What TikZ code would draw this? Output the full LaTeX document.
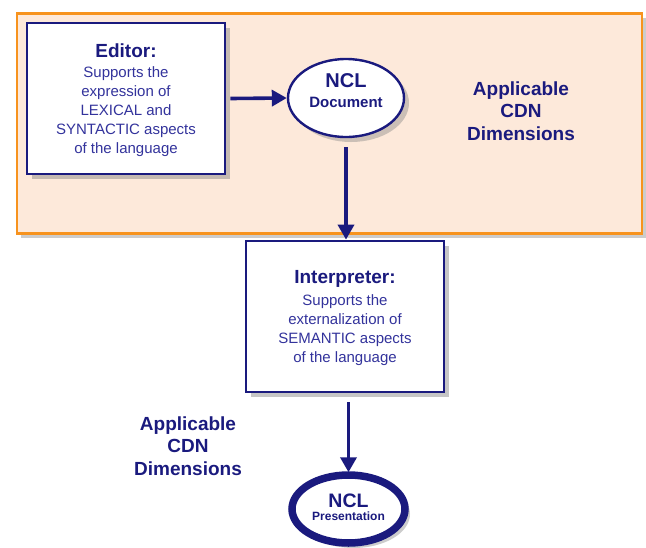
\documentclass[tikz,border=0pt]{standalone}
\usepackage{fontspec}
\setmainfont{Liberation Sans}
\usetikzlibrary{arrows.meta,shadows,shapes.geometric}
\definecolor{navy}{HTML}{1A1A7E}
\definecolor{bodyc}{HTML}{33339C}
\definecolor{orangeb}{HTML}{F7931E}
\definecolor{peach}{HTML}{FDE9DA}
\tikzset{
  panel/.style={draw=orangeb,line width=2.8pt,fill=peach,
    drop shadow={shadow xshift=4pt,shadow yshift=-4pt,opacity=0.4,fill=gray}},
  procbox/.style={draw=navy,line width=2.8pt,fill=white,
    drop shadow={shadow xshift=5pt,shadow yshift=-5pt,opacity=0.45,fill=gray}},
  docell/.style={ellipse,draw=navy,line width=2.4pt,fill=white,inner sep=0pt,
    drop shadow={shadow xshift=5pt,shadow yshift=-5pt,opacity=0.4,fill=gray}},
  presell/.style={ellipse,draw=navy,line width=7.5pt,fill=white,inner sep=0pt,
    drop shadow={shadow xshift=5pt,shadow yshift=-5pt,opacity=0.4,fill=gray}},
  flow/.style={draw=navy,line width=3.6pt,-{Triangle[width=16pt,length=15pt]}},
  boxtext/.style={align=center,text=bodyc,inner sep=0pt,font=\fontsize{15}{19}\selectfont},
  boxtitle/.style={text=navy,inner sep=0pt,font=\bfseries\fontsize{19}{22}\selectfont},
  cdn/.style={align=center,text=navy,font=\bfseries\fontsize{19}{22.5}\selectfont},
  elltext/.style={text=navy,inner sep=0pt,font=\bfseries},
}
\begin{document}
\begin{tikzpicture}[x=1pt,y=-1pt]
\useasboundingbox (0,0) rectangle (646,547);
% background panel
\node[panel,minimum width=625pt,minimum height=220pt,inner sep=0pt] (panel) at (329.5,123.5) {};
% editor box
\node[procbox,minimum width=198pt,minimum height=151pt,inner sep=0pt] (editor) at (126,98.5) {};
\node[boxtitle] (edtitle) at (126,51) {Editor:};
\node[boxtext] (edbody) at (126,112) {Supports the\\expression of\\LEXICAL and\\SYNTACTIC aspects\\of the language};
% NCL document
\node[docell,minimum width=116pt,minimum height=78pt] (doc) at (346,98) {};
\node[elltext,font=\bfseries\fontsize{20}{22}\selectfont] (docncl) at (346,81) {NCL};
\node[elltext,font=\bfseries\fontsize{15}{17}\selectfont] (docdoc) at (346,102.5) {Document};
% CDN label top
\node[cdn] (cdn1) at (521,111) {Applicable\\CDN\\Dimensions};
% interpreter box
\node[procbox,minimum width=198pt,minimum height=151pt,inner sep=0pt] (interp) at (345,316.5) {};
\node[boxtitle] (intitle) at (345,279) {Interpreter:};
\node[boxtext] (inbody) at (345,330) {Supports the\\externalization of\\SEMANTIC aspects\\of the language};
% CDN label bottom
\node[cdn] (cdn2) at (188,446) {Applicable\\CDN\\Dimensions};
% NCL presentation
\node[presell,minimum width=113pt,minimum height=68pt] (pres) at (348.5,509) {};
\node[elltext,font=\bfseries\fontsize{19.5}{20}\selectfont] (presncl) at (348.5,501) {NCL};
\node[elltext,font=\bfseries\fontsize{12}{13}\selectfont] (prespres) at (348.5,516.5) {Presentation};
% connectors
\draw[flow] (editor.east) ++(4pt,0) -- (doc.west);
\draw[flow] ([yshift=-9pt]doc.south) -- (doc.south |- interp.north);
\draw[flow] ([yshift=-9pt]pres.north |- interp.south) -- ([yshift=-1pt]pres.north);
\end{tikzpicture}
\end{document}
